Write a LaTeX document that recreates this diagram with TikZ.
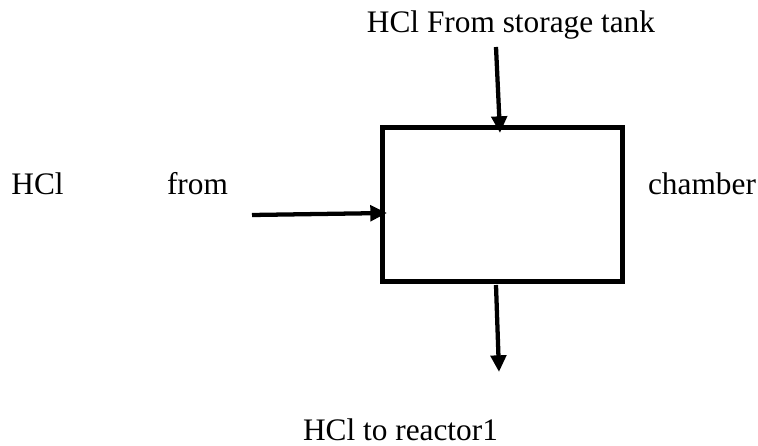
\documentclass[tikz,border=0pt]{standalone}
\usepackage{fontspec}
\setmainfont{Liberation Serif}
\usetikzlibrary{arrows.meta,positioning,calc}

\begin{document}
\begin{tikzpicture}[x=0.75pt, y=0.75pt,
      tank/.style={draw, line width=3.75pt, minimum width=180pt, minimum height=115.5pt, inner sep=0pt, outer sep=0pt},
      lbl/.style={anchor=base, inner sep=0pt, font=\fontsize{23.5}{28}\selectfont},
      arr/.style={-{Triangle[length=12.5pt,width=11.5pt]}, line width=3.2pt}]
    \useasboundingbox (0,0) rectangle (758,446);
    \node[tank] (chamber) at (502,241) {};
    \node[lbl] (src) at (511,413) {HCl From storage tank};
    \node[lbl] (hcl) at (37.5,251) {HCl};
    \node[lbl] (from) at (197.5,251) {from};
    \node[lbl] (chlbl) at (702,251) {chamber};
    \node[lbl] (dst) at (400.5,5) {HCl to reactor1};
    \coordinate (topin) at (496,399);
    \coordinate (sidein) at (252,231);
    \coordinate (botout) at (499,74);
    \draw[arr] (topin) -- ($(chamber.north)+(-2,-5)$);
    \draw[arr] (sidein) -- ($(chamber.west)+(5,-8)$);
    \draw[arr] ($(chamber.south)+(-6,-3)$) -- (botout);
  \end{tikzpicture}
\end{document}
